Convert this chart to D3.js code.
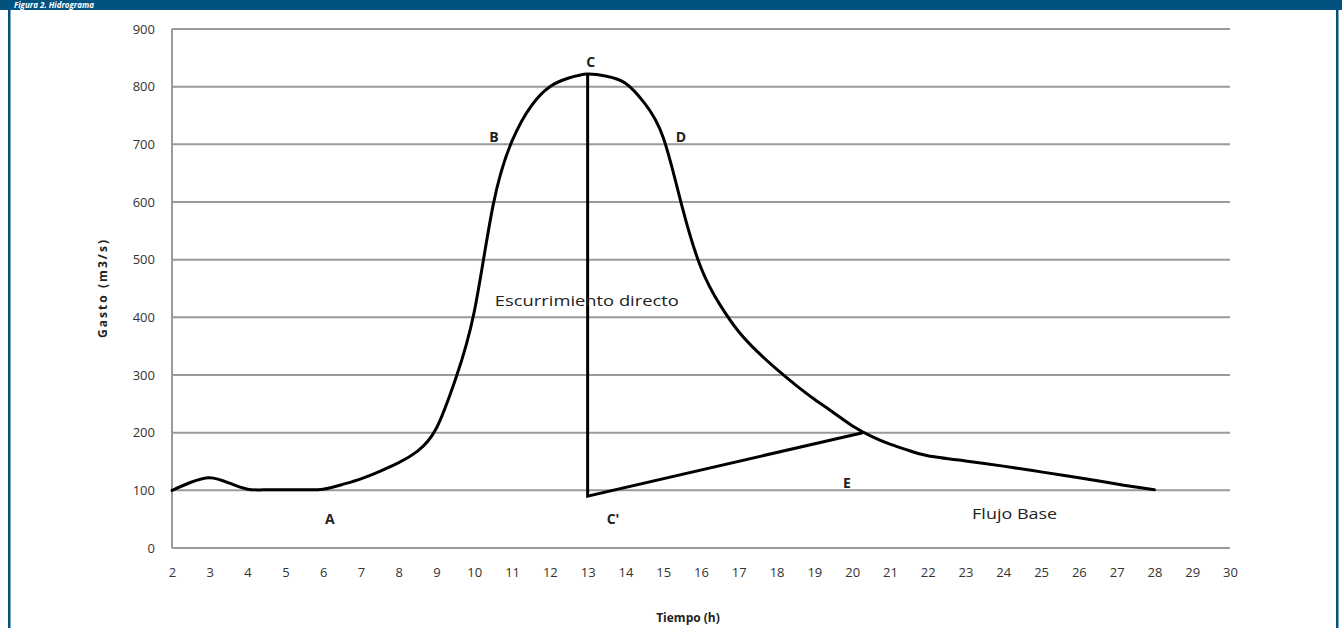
<!DOCTYPE html>
<html>
<head>
<meta charset="utf-8">
<script src="https://cdn.jsdelivr.net/npm/d3@7"></script>
<style>
  html, body { margin: 0; padding: 0; background: #fff; }
  svg { display: block; }
</style>
</head>
<body>
<svg id="chart" width="1342" height="628"></svg>
<script>
// ---- data ----
const hours = [2, 2.5, 3, 3.5, 4, 4.5, 5, 5.5, 6, 6.5, 7, 7.5, 8, 8.5, 9, 9.5, 10, 10.5, 11, 11.5, 12, 12.5, 13, 13.5, 14, 14.5, 15, 15.5, 16, 16.5, 17, 17.5, 18, 18.5, 19, 19.5, 20, 20.5, 21, 21.5, 22, 23, 24, 25, 26, 27, 28];
const flow  = [100, 114, 122, 113, 102, 101, 101, 101, 102, 110, 120, 133, 148, 168, 208, 292, 410, 595, 706, 766, 800, 815, 822, 818, 806, 772, 712, 592, 486, 422, 375, 340, 310, 283, 258, 235, 212, 194, 180, 169, 160, 151, 142, 132, 122, 111, 101];
const separationT = [13, 13, 20.28];
const separationQ = [822, 90, 200];
const xTicks = d3.range(2, 31);
const yTicks = [0, 100, 200, 300, 400, 500, 600, 700, 800, 900];
const labelText = ["A", "B", "C", "D", "E", "C'", "Escurrimiento directo", "Flujo Base"];
const labelT    = [6.18, 10.52, 13.08, 15.47, 19.86, 13.67, 12.98, 24.3];
const labelQ    = [52, 714, 843, 714, 114, 52, 430, 61];
const labelBold = [true, true, true, true, true, true, false, false];
const labelLen  = [0, 0, 0, 0, 0, 0, 184, 85];

const svg = d3.select("#chart");
const W = 1342, H = 628;
const fontFam = "'Open Sans', 'Liberation Sans', sans-serif";

// frame
svg.append("rect").attr("x", 8).attr("y", 0).attr("width", 2.5).attr("height", H).attr("fill", "#02527f");
svg.append("rect").attr("x", 1336).attr("y", 0).attr("width", 2.5).attr("height", H).attr("fill", "#02527f");
svg.append("rect").attr("x", 0).attr("y", 0).attr("width", W).attr("height", 10).attr("fill", "#02527f");
svg.append("text").attr("x", 14).attr("y", 8).attr("fill", "#fff")
  .attr("font-family", fontFam).attr("font-weight", "bold").attr("font-style", "italic")
  .attr("font-size", 8).text("Figura 2. Hidrograma");

const x = d3.scaleLinear().domain([2, 30]).range([172, 1230]);
const y = d3.scaleLinear().domain([0, 900]).range([548, 29]);

// gridlines
svg.append("g").selectAll("line").data(yTicks).join("line")
  .attr("x1", x(2)).attr("x2", x(30))
  .attr("y1", d => y(d)).attr("y2", d => y(d))
  .attr("stroke", "#9a9a9a").attr("stroke-width", 2);
// y axis line
svg.append("line").attr("x1", x(2)).attr("x2", x(2)).attr("y1", y(0)).attr("y2", y(900))
  .attr("stroke", "#9a9a9a").attr("stroke-width", 2);

// y axis labels
const yAxis = d3.axisLeft(y).tickValues(yTicks).tickSize(0).tickPadding(17);
const gy = svg.append("g").attr("transform", `translate(${x(2)},0)`).call(yAxis);
gy.select(".domain").remove();
gy.selectAll("text").attr("font-family", fontFam).attr("font-size", 13).attr("fill", "#333");

// x axis labels
const xAxis = d3.axisBottom(x).tickValues(xTicks).tickSize(0).tickPadding(20).tickFormat(d3.format("d"));
const gx = svg.append("g").attr("transform", `translate(0,${y(0)})`).call(xAxis);
gx.select(".domain").remove();
gx.selectAll("text").attr("font-family", fontFam).attr("font-size", 13).attr("fill", "#333");

// axis titles
svg.append("text").attr("x", 688).attr("y", 622).attr("text-anchor", "middle")
  .attr("font-family", fontFam).attr("font-weight", "bold").attr("font-size", 12).attr("fill", "#222")
  .text("Tiempo  (h)");
svg.append("text").attr("transform", "translate(107,289) rotate(-90)").attr("text-anchor", "middle")
  .attr("font-family", fontFam).attr("font-weight", "bold").attr("font-size", 12).attr("fill", "#222")
  .attr("textLength", 98).attr("lengthAdjust", "spacing")
  .text("Gasto (m3/s)");

// hydrograph curve
const pts = hours.map((h, i) => [h, flow[i]]);
const line = d3.line().x(d => x(d[0])).y(d => y(d[1])).curve(d3.curveNatural);
svg.append("path").attr("d", line(pts)).attr("fill", "none").attr("stroke", "#000")
  .attr("stroke-width", 3).attr("stroke-linejoin", "round").attr("stroke-linecap", "round");

// base flow separation
const sep = separationT.map((t, i) => [t, separationQ[i]]);
svg.append("path").attr("d", d3.line().x(d => x(d[0])).y(d => y(d[1]))(sep))
  .attr("fill", "none").attr("stroke", "#000").attr("stroke-width", 3).attr("stroke-linejoin", "miter");

// labels
const lbl = svg.append("g").selectAll("text").data(labelText).join("text")
  .attr("x", (d, i) => x(labelT[i])).attr("y", (d, i) => y(labelQ[i]))
  .attr("text-anchor", "middle").attr("dominant-baseline", "central")
  .attr("font-family", fontFam)
  .attr("font-weight", (d, i) => labelBold[i] ? "bold" : "normal")
  .attr("font-size", (d, i) => labelBold[i] ? 14 : 15)
  .attr("fill", "#222")
  .text(d => d);
lbl.filter((d, i) => labelLen[i] > 0)
  .attr("textLength", d => labelLen[labelText.indexOf(d)]).attr("lengthAdjust", "spacingAndGlyphs");
</script>
</body>
</html>
